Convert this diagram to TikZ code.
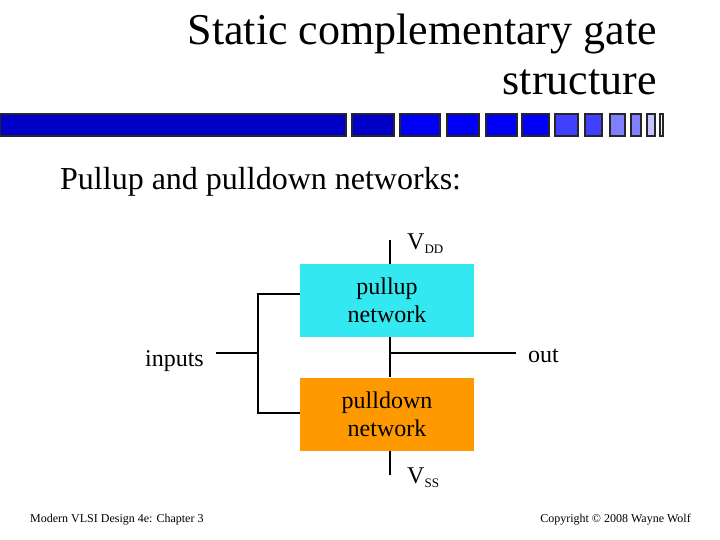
\documentclass[tikz,border=0pt]{standalone}
\usepackage{fontspec}
\setmainfont{Liberation Serif}
\usepackage{xcolor}
\usetikzlibrary{positioning}
\definecolor{barA}{RGB}{0,0,200}
\definecolor{barB}{RGB}{0,0,250}
\definecolor{barC}{RGB}{64,64,255}
\definecolor{barD}{RGB}{128,128,255}
\definecolor{barE}{RGB}{196,196,255}
\definecolor{barF}{RGB}{250,250,255}
\definecolor{upcyan}{RGB}{51,232,240}
\definecolor{downorange}{RGB}{255,153,0}
\newcommand{\railsub}[1]{\raisebox{-4pt}{\fontsize{13}{14}\selectfont #1}}
\tikzset{
  wire/.style={line width=2pt},
  netbox/.style={minimum width=174pt, minimum height=73pt, inner sep=0pt, align=center,
    font=\fontsize{24}{28}\selectfont},
  lbl/.style={inner sep=0pt, font=\fontsize{24}{28}\selectfont},
  foot/.style={inner sep=0pt, font=\fontsize{12}{14}\selectfont}
}

\begin{document}
\begin{tikzpicture}[x=1pt,y=-1pt]
\useasboundingbox[fill=white] (0,0) rectangle (720,540);
% title and bar
\node[inner sep=0pt, anchor=base east, align=right, font=\fontsize{44}{50}\selectfont] (title) at (657,95) {Static complementary gate\\structure};
\foreach \xa/\xb/\col in {
  0/346/barA, 352/394/barA, 400/440/barB, 447/479/barB, 486/517/barB,
  522/549/barB, 555/578/barC, 585/602/barC, 610/625/barD, 631/641/barD,
  647/655/barE, 660/663/barF} {
  \draw[fill=\col, draw=black!85, line width=1.5pt] (\xa,114) rectangle (\xb,136);
}
\node[inner sep=0pt, anchor=base west, font=\fontsize{32}{36}\selectfont] (heading) at (60,190) {Pullup and pulldown networks:};
% networks
\node[netbox, fill=upcyan] (pullup) at (387,300.5) {pullup\\network};
\node[netbox, fill=downorange] (pulldown) at (387,414) {pulldown\\network};
\coordinate (vdd) at (390,240);
\coordinate (vss) at (390,475);
\coordinate (outj) at (390,353);
\coordinate (fork) at (258,353);
\draw[wire] (vdd) -- (vdd |- pullup.north);
\draw[wire] (vss |- pulldown.south) -- (vss);
\draw[wire] (outj |- pullup.south) -- (outj |- pulldown.north);
\node[lbl, anchor=base west] (vddlbl) at (407,249) {V\railsub{DD}};
\node[lbl, anchor=base west] (vsslbl) at (407,483) {V\railsub{SS}};
\node[lbl, anchor=base west] (out) at (528,362) {out};
\draw[wire] (outj) -- ([xshift=-12pt]out.west |- outj);
\node[lbl, anchor=base east] (inputs) at (204,366) {inputs};
\draw[wire] ([xshift=12pt]inputs.east |- fork) -- (fork);
\draw[wire] (pullup.west |- 0,294) -| (fork |- 0,413) -- (pulldown.west |- 0,413);
% footer
\node[foot, anchor=base west] (chapter) at (30,522) {Modern VLSI Design 4e: Chapter 3};
\node[foot, anchor=base east] (copyright) at (691,522) {Copyright \textcopyright{} 2008 Wayne Wolf};
\end{tikzpicture}
\end{document}
